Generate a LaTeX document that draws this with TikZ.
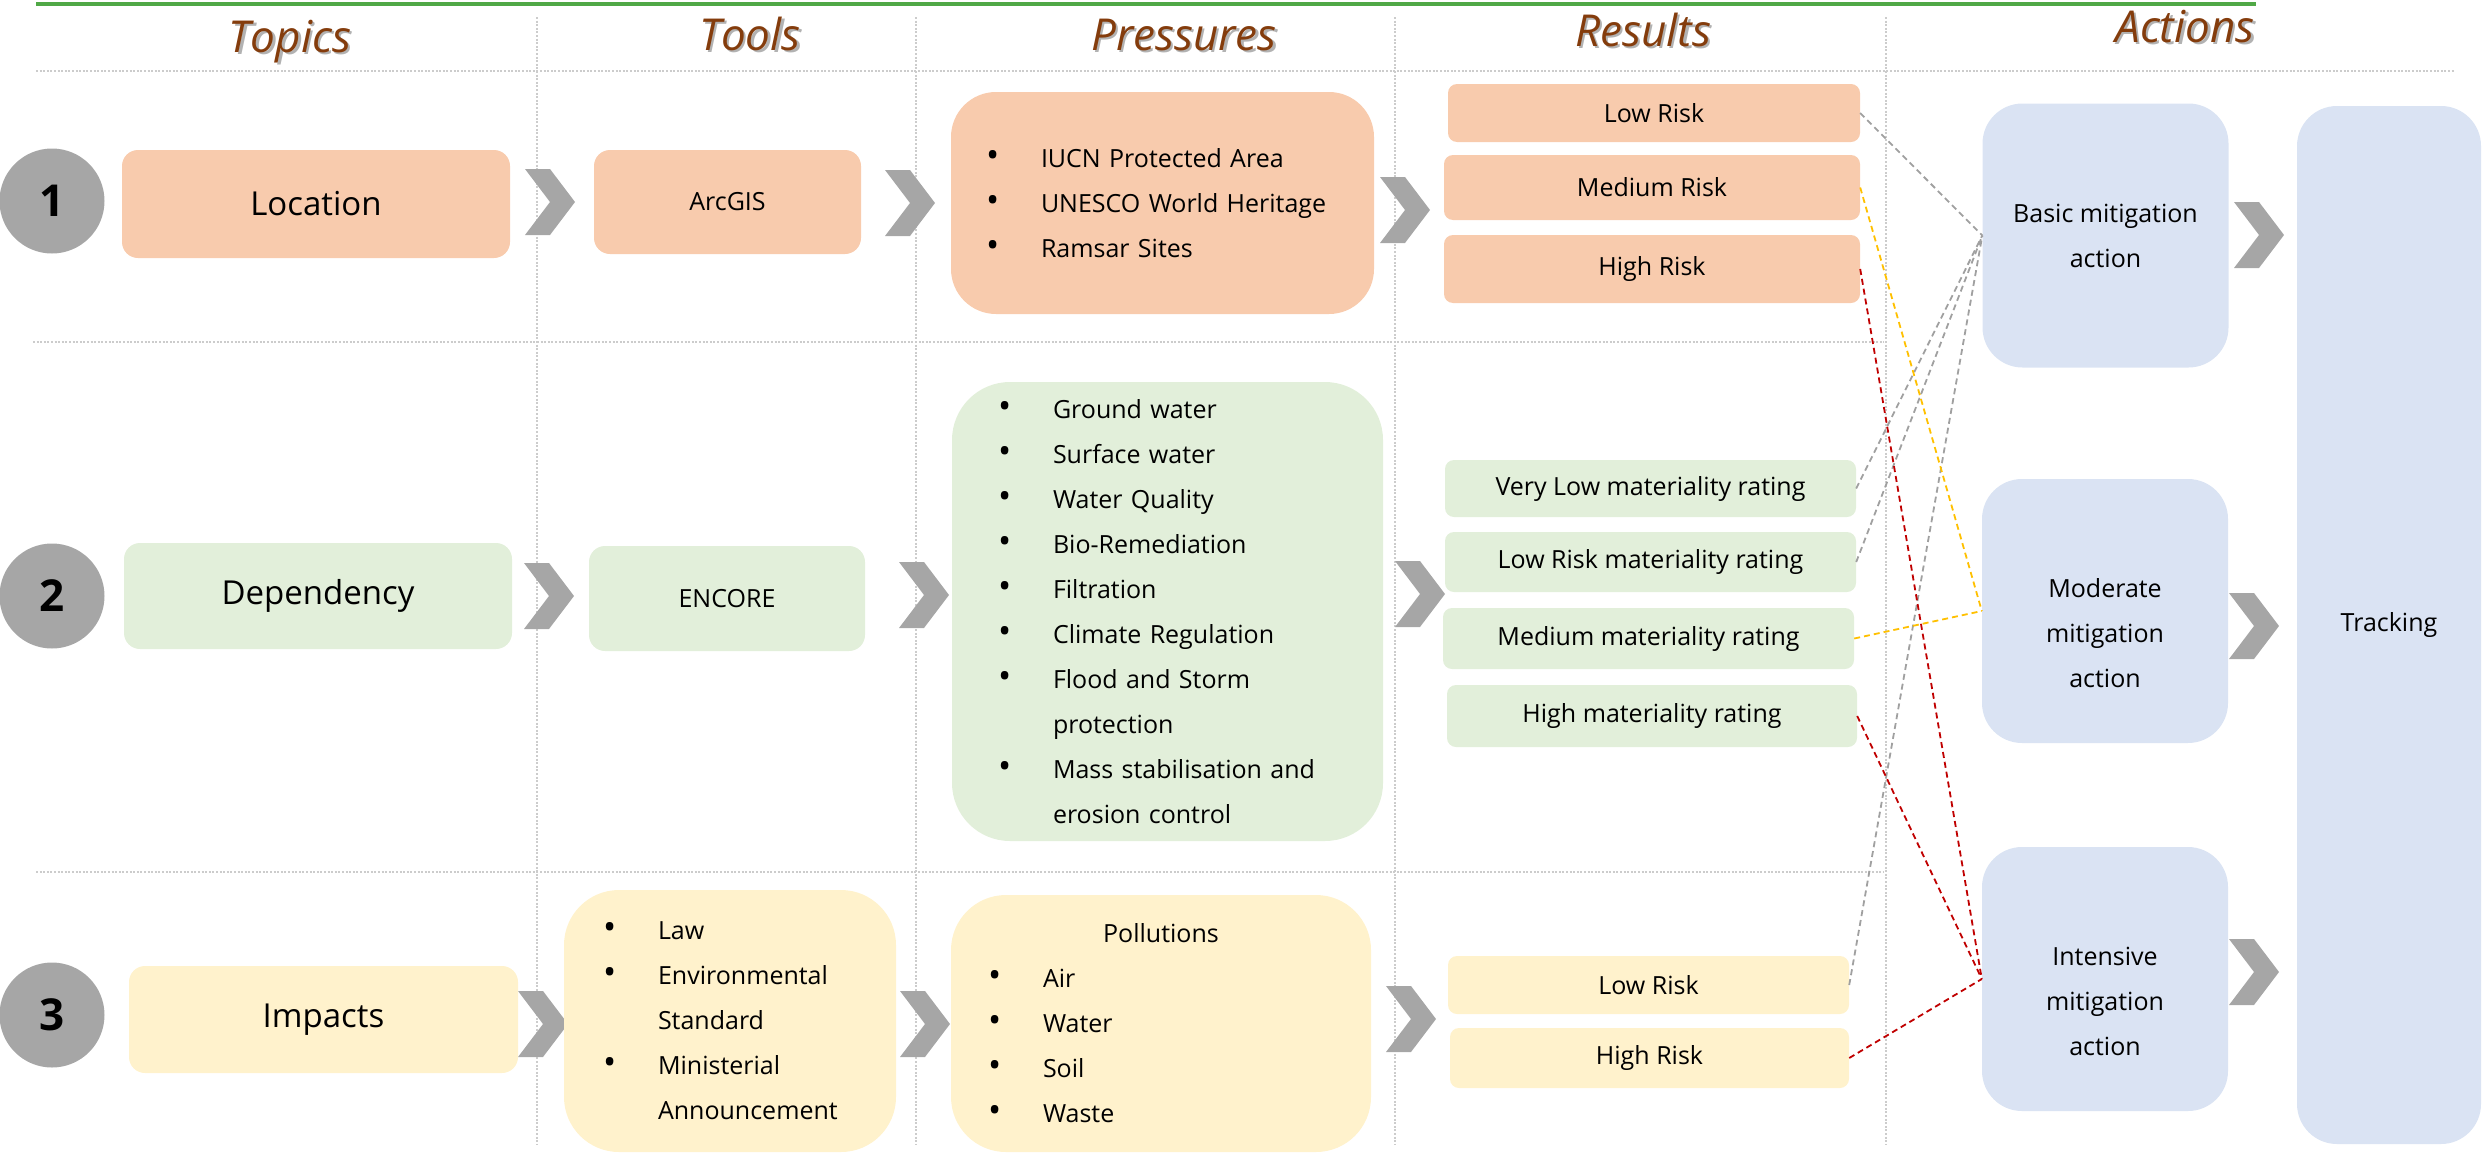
\documentclass[tikz,border=0pt]{standalone}
\usepackage{fontspec}
\setmainfont{Open Sans}
\definecolor{peach}{RGB}{248,203,173}
\definecolor{leaf}{RGB}{226,239,218}
\definecolor{cream}{RGB}{255,242,204}
\definecolor{mist}{RGB}{218,227,243}
\definecolor{chevgray}{RGB}{166,166,166}
\definecolor{headbrown}{RGB}{132,60,12}
\definecolor{rulegreen}{RGB}{80,168,70}
\definecolor{guide}{RGB}{204,204,204}
\definecolor{linkgray}{RGB}{160,160,160}
\definecolor{linkgold}{RGB}{255,192,0}
\definecolor{linkred}{RGB}{192,0,0}

% list helpers: bullet in a fixed-width slot, continuation lines indented
\newcommand{\bul}{\makebox[55pt][l]{\scalebox{1.4}{\textbullet}}}
\newcommand{\itm}[1]{\bul#1}
\newcommand{\cnt}[1]{\hspace*{55pt}#1}
% heading text with a soft drop shadow
\newcommand{\shadowtext}[1]{\rlap{\hspace{2.5pt}\raisebox{-2.5pt}{\color{black!30}#1}}#1}

\begin{document}
\begin{tikzpicture}[x=1pt,y=-1pt,
  base/.style={inner sep=0pt, align=center, text=black,
    font=\fontsize{25}{45}\selectfont},
  topic/.style={base, rounded corners=16pt, font=\fontsize{33}{40}\selectfont},
  tool/.style={base, rounded corners=16pt},
  result/.style={base, rounded corners=9pt},
  listbox/.style={base, align=left},
  action/.style={base, fill=mist, rounded corners=40pt,
    minimum width=246pt, minimum height=264pt},
  actlab/.style={base, yshift=-22pt},
  numdisc/.style={circle, fill=chevgray, minimum size=105pt, inner sep=0pt,
    font=\fontsize{44}{44}\selectfont\bfseries},
  head/.style={anchor=base, inner sep=0pt, text=headbrown,
    font=\fontsize{44}{50}\selectfont\itshape},
  guideline/.style={guide, line width=2.2pt, dash pattern=on 2pt off 1.6pt},
  link/.style={line width=1.8pt, dash pattern=on 6pt off 4pt},
  chev/.pic={\fill[chevgray] (-25,-33) -- (0,-33) -- (25,0) -- (0,33)
    -- (-25,33) -- (0,0) -- cycle;}
]
\useasboundingbox (0,0) rectangle (2484,1154);

% column and row guides
\draw[guideline] (36,71) -- (2455,71);
\draw[guideline] (33,342) -- (1884,342);
\draw[guideline] (36,872) -- (1884,872);
\foreach \gx in {537,916,1395,1886}
  \draw[guideline] (\gx,17) -- (\gx,1145);

% top rule
\draw[rulegreen, line width=3.5pt] (36,4) -- (2256,4);

% column headings
\node[head] (hTopics) at (290,52) {\shadowtext{Topics}};
\node[head] (hTools) at (750,50) {\shadowtext{Tools}};
\node[head] (hPress) at (1184,50) {\shadowtext{Pressures}};
\node[head] (hResults) at (1643,46) {\shadowtext{Results}};
\node[head] (hActions) at (2185,42) {\shadowtext{Actions}};

% chevrons
\foreach \cx/\cy in {550/202, 910/203, 1405/210, 2259/235,
                     549/596, 924/595, 1420/594, 2254/626,
                     543/1024, 925/1024, 1411/1019, 2254/972}
  \pic at (\cx,\cy) {chev};

% row numbers
\node[numdisc] (n1) at (52,201) {1};
\node[numdisc] (n2) at (52,596) {2};
\node[numdisc] (n3) at (52,1015) {3};

% row 1: location
\node[topic, fill=peach, minimum width=388pt, minimum height=108pt] (loc) at (316,204) {Location};
\node[tool, fill=peach, minimum width=267pt, minimum height=104pt] (arc) at (727.5,202) {ArcGIS};
\node[listbox, fill=peach, rounded corners=45pt, text width=353pt, inner xsep=35pt,
  minimum height=222pt] (pr1) at (1162.5,203)
  {\itm{IUCN Protected Area}\\ \itm{UNESCO World Heritage}\\ \itm{Ramsar Sites}};
\node[result, fill=peach, minimum width=412pt, minimum height=58pt] (r1a) at (1654,113) {Low Risk};
\node[result, fill=peach, minimum width=416pt, minimum height=65pt] (r1b) at (1652,187.5) {Medium Risk};
\node[result, fill=peach, minimum width=416pt, minimum height=68pt] (r1c) at (1652,269) {High Risk};

% row 2: dependency
\node[topic, fill=leaf, minimum width=388pt, minimum height=106pt] (dep) at (318,596) {Dependency};
\node[tool, fill=leaf, minimum width=276pt, minimum height=105pt] (enc) at (727,598.5) {ENCORE};
\node[listbox, fill=leaf, rounded corners=58pt, text width=339pt, inner xsep=46pt,
  minimum height=459pt] (pr2) at (1167.5,611.5)
  {\itm{Ground water}\\ \itm{Surface water}\\ \itm{Water Quality}\\
   \itm{Bio-Remediation}\\ \itm{Filtration}\\ \itm{Climate Regulation}\\
   \itm{Flood and Storm}\\ \cnt{protection}\\
   \itm{Mass stabilisation and}\\ \cnt{erosion control}};
\node[result, fill=leaf, minimum width=411pt, minimum height=57pt] (r2a) at (1650.5,488.5) {Very Low materiality rating};
\node[result, fill=leaf, minimum width=411pt, minimum height=60pt] (r2b) at (1650.5,562) {Low Risk materiality rating};
\node[result, fill=leaf, minimum width=411pt, minimum height=61pt] (r2c) at (1648.5,638.5) {Medium materiality rating};
\node[result, fill=leaf, minimum width=410pt, minimum height=62pt] (r2d) at (1652,716) {High materiality rating};

% row 3: impacts
\node[topic, fill=cream, minimum width=389pt, minimum height=107pt] (imp) at (323.5,1019.5) {Impacts};
\node[listbox, fill=cream, rounded corners=55pt, text width=254pt, inner xsep=39pt,
  minimum height=262pt] (law) at (730,1021)
  {\itm{Law}\\ \itm{Environmental}\\ \cnt{Standard}\\ \itm{Ministerial}\\ \cnt{Announcement}};
\node[listbox, fill=cream, rounded corners=55pt, text width=346pt, inner xsep=37pt,
  minimum height=257pt] (pol) at (1161,1023.5)
  {\makebox[\linewidth]{Pollutions}\\ \itm{Air}\\ \itm{Water}\\ \itm{Soil}\\ \itm{Waste}};
\node[result, fill=cream, minimum width=401pt, minimum height=58pt] (r3a) at (1648.5,985) {Low Risk};
\node[result, fill=cream, minimum width=399pt, minimum height=60pt] (r3b) at (1649.5,1058) {High Risk};

% actions
\node[action] (basic) at (2105.5,235.5) {Basic mitigation\\action};
\node[action, label={[actlab, name=modtext]center:Moderate\\mitigation\\action}]
  (mod) at (2105,611) {};
\node[action, label={[actlab, name=inttext]center:Intensive\\mitigation\\action}]
  (int) at (2105,979) {};
\node[base, fill=mist, rounded corners=40pt, minimum width=184pt, minimum height=1038pt]
  (track) at (2389,625) {Tracking};

% result-to-action links
\draw[link, linkgray] (r1a.east) -- (basic.west);
\draw[link, linkgray] (r2a.east) -- (basic.west);
\draw[link, linkgray] (r2b.east) -- (basic.west);
\draw[link, linkgray] (r3a.east) -- (basic.west);
\draw[link, linkgold] (r1b.east) -- (mod.west);
\draw[link, linkgold] (r2c.east) -- (mod.west);
\draw[link, linkred] (r1c.east) -- (int.west);
\draw[link, linkred] (r2d.east) -- (int.west);
\draw[link, linkred] (r3b.east) -- (int.west);
\end{tikzpicture}
\end{document}
